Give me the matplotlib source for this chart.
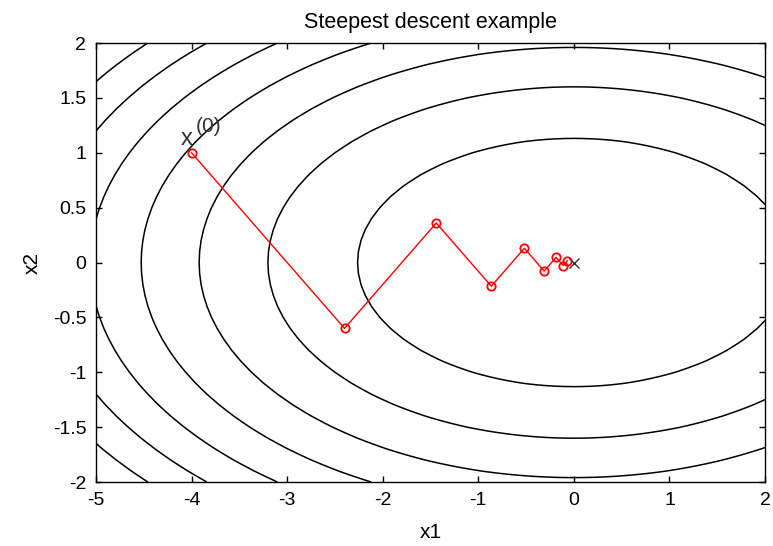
import numpy as np
import matplotlib
matplotlib.use("Agg")
import matplotlib.pyplot as plt

plt.rcParams['font.family'] = ['Liberation Sans', 'DejaVu Sans']
plt.rcParams['axes.unicode_minus'] = False

# quadratic f(x) = a*x1^2 + b*x2^2
coef_a = 1.0
coef_b = 4.0
levels = [5.125, 10.25, 15.375, 20.5, 25.625, 30.75, 35.875]

# steepest descent iterates
x1_path = [-4.0, -2.4, -1.44, -0.864, -0.518, -0.311, -0.187, -0.112, -0.067]
x2_path = [1.0, -0.6, 0.36, -0.216, 0.13, -0.078, 0.047, -0.028, 0.017]
x_opt = [0.0, 0.0]

g1 = np.linspace(-5, 2, 71)
g2 = np.linspace(-2, 2, 41)
X1, X2 = np.meshgrid(g1, g2)
Z = coef_a * X1**2 + coef_b * X2**2

fig = plt.figure(figsize=(7.73, 5.46), dpi=100)
ax = fig.add_axes([0.1242, 0.1172, 0.8655, 0.804])

ax.contour(X1, X2, Z, levels=levels, colors='k', linewidths=1.1)
ax.plot(x1_path, x2_path, '-o', color='red', lw=1, ms=6, mfc='none', mew=1.3)
ax.plot(x_opt[0], x_opt[1], 'x', color='#333333', ms=7, mew=1)

ax.text(-4.11, 1.07, 'x', fontsize=17, color='#333333', ha='left', va='baseline')
ax.text(-3.96, 1.19, '(0)', fontsize=15, color='#333333', ha='left', va='baseline')

ax.set_xlim(-5, 2)
ax.set_ylim(-2, 2)
ax.set_xticks([-5, -4, -3, -2, -1, 0, 1, 2])
ax.set_yticks([-2, -1.5, -1, -0.5, 0, 0.5, 1, 1.5, 2])
ax.set_yticklabels(['-2', '-1.5', '-1', '-0.5', '0', '0.5', '1', '1.5', '2'])
ax.tick_params(direction='in', top=True, right=True, labelsize=14, length=4.5, width=1)
ax.tick_params(axis='x', pad=7.5)
ax.tick_params(axis='y', pad=7)
for s in ax.spines.values():
    s.set_linewidth(1)

ax.set_title('Steepest descent example', fontsize=15.5, pad=11)
ax.set_xlabel('x1', fontsize=15, labelpad=10)
ax.set_ylabel('x2', fontsize=15, labelpad=8)

fig.savefig('out.png', dpi=100)
